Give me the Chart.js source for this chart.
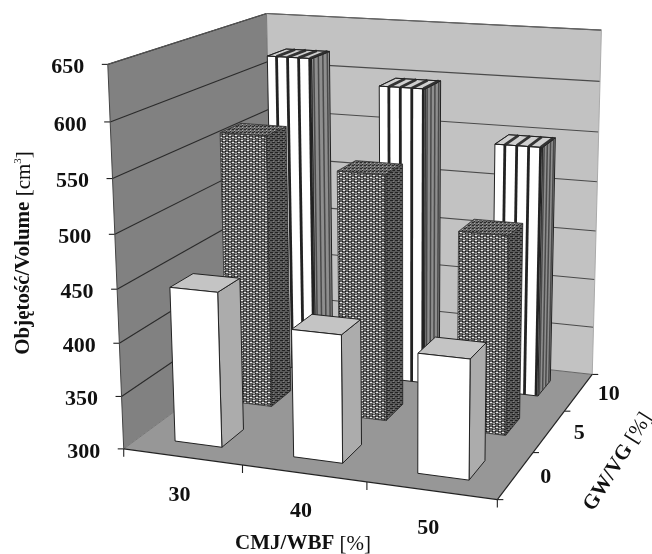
<!DOCTYPE html>
<html><head><meta charset="utf-8">
<style>html,body{margin:0;padding:0;background:#fff}canvas{display:block;filter:blur(0.5px)}</style>
<script src="https://cdn.jsdelivr.net/npm/chart.js@4"></script>
</head><body><canvas id="c" width="652" height="554"></canvas>
<script>
const categories = ['30','40','50'];
const depthLabels = ['0','5','10'];
const gw0 = [446, 419, 410];
const gw5 = [565, 537, 490];
const gw10 = [620, 597, 548];

/* camera calibration: cube corner (u,v,w) -> page pixel */
const calib = [
 [0,0,0,123,450],[0,1,0,109,64],[0,1,1,265,14],[0,0,1,274,338],
 [1,0,1,592,375],[1,1,1,602,30],[1,0,0,497,499],
 [0,3/7,0,117,289],[1,3/7,1,596,231]
];
function solveCam(pts){
  const A=[],b=[];
  for(const [X,Y,Z,x,y] of pts){
    A.push([X,Y,Z,1,0,0,0,0,-x*X,-x*Y,-x*Z]);b.push(x);
    A.push([0,0,0,0,X,Y,Z,1,-y*X,-y*Y,-y*Z]);b.push(y);
  }
  const n=11,M=[];
  for(let i=0;i<n;i++){M.push(new Array(n+1).fill(0));
    for(let j=0;j<n;j++)for(let r=0;r<A.length;r++)M[i][j]+=A[r][i]*A[r][j];
    for(let r=0;r<A.length;r++)M[i][n]+=A[r][i]*b[r];}
  for(let c=0;c<n;c++){let p=c;for(let r=c+1;r<n;r++)if(Math.abs(M[r][c])>Math.abs(M[p][c]))p=r;
    [M[c],M[p]]=[M[p],M[c]];
    for(let r=0;r<n;r++)if(r!==c){const f=M[r][c]/M[c][c];for(let k=c;k<=n;k++)M[r][k]-=f*M[c][k];}}
  return M.map((row,i)=>row[n]/row[i]);
}
const cam=solveCam(calib);
function P(u,v,w){const d=cam[8]*u+cam[9]*v+cam[10]*w+1;
  return [(cam[0]*u+cam[1]*v+cam[2]*w+cam[3])/d,(cam[4]*u+cam[5]*v+cam[6]*w+cam[7])/d];}

function poly(ctx,pts,fill,stroke,lw){ctx.beginPath();pts.forEach((p,i)=>i?ctx.lineTo(p[0],p[1]):ctx.moveTo(p[0],p[1]));ctx.closePath();
  if(fill){ctx.fillStyle=fill;ctx.fill();}
  if(stroke){ctx.strokeStyle=stroke;ctx.lineWidth=lw||1;ctx.stroke();}}
function seg(ctx,a,b,col,lw){ctx.beginPath();ctx.moveTo(a[0],a[1]);ctx.lineTo(b[0],b[1]);ctx.strokeStyle=col;ctx.lineWidth=lw||1;ctx.stroke();}

function mkPattern(ctx,w,h,bg,draw){const c=document.createElement('canvas');c.width=w;c.height=h;const g=c.getContext('2d');g.fillStyle=bg;g.fillRect(0,0,w,h);draw(g);return ctx.createPattern(c,'repeat');}

const DEPTH_FRAC=0.42;
const plugin3d={id:'plugin3d',afterDatasetsDraw(chart){
  const ctx=chart.ctx,a=chart.chartArea,sx=chart.scales.x,sy=chart.scales.y,sz=chart.scales.z;
  const U=px=>(px-a.left)/a.width, V=py=>(a.bottom-py)/a.height, W=px=>(px-a.left)/a.width;
  ctx.save();
  ctx.lineJoin='round';
  poly(ctx,[P(0,0,0),P(0,1,0),P(0,1,1),P(0,0,1)],'#818181');
  poly(ctx,[P(0,0,1),P(0,1,1),P(1,1,1),P(1,0,1)],'#c2c2c2');
  poly(ctx,[P(0,0,0),P(0,0,1),P(1,0,1),P(1,0,0)],'#979797');
  ctx.font='bold 22px "Liberation Serif"';ctx.textAlign='center';ctx.textBaseline='middle';
  sy.ticks.forEach(t=>{const v=V(sy.getPixelForValue(t.value)),p0=P(0,v,0),p1=P(0,v,1),p2=P(1,v,1);
    if(t.value>300){seg(ctx,p0,p1,'#2a2a2a',1.1);seg(ctx,p1,p2,'#4a4a4a',1.1);}
    seg(ctx,[p0[0]-6,p0[1]],p0,'#222',1.1);
    ctx.fillStyle='#111';ctx.fillText(String(t.value),p0[0]-40,p0[1]+3);
  });
  seg(ctx,P(0,1,0),P(0,1,1),'#555',1);seg(ctx,P(0,1,1),P(1,1,1),'#666',1);seg(ctx,P(0,0,0),P(0,1,0),'#444',1);
  seg(ctx,P(1,1,1),P(1,0,1),'#aaa',1);seg(ctx,P(0,0,1),P(1,0,1),'#666',1);seg(ctx,P(0,0,0),P(0,0,1),'#777',1);
  seg(ctx,P(0,1,1),P(0,0,1),'#777',1);
  seg(ctx,P(0,0,0),P(1,0,0),'#222',1.2);seg(ctx,P(1,0,0),P(1,0,1),'#222',1.2);
  const hatchFront=mkPattern(ctx,6,5,'#5e5e5e',g=>{g.fillStyle='#e8e8e8';g.fillRect(1,0,2,1);g.fillRect(4,2,2,1);g.fillStyle='#1c1c1c';g.fillRect(0,1,1,1);g.fillRect(3,1,1,1);g.fillRect(3,3,1,1);g.fillRect(0,4,1,1);g.fillStyle='#b0b0b0';g.fillRect(1,3,2,1);});
  const hatchSide=mkPattern(ctx,5,4,'#5a5a5a',g=>{g.fillStyle='#222';g.fillRect(0,0,3,1);g.fillRect(2,2,3,1);g.fillStyle='#808080';g.fillRect(3,1,1,1);});
  const hatchTop=mkPattern(ctx,4,3,'#6a6a6a',g=>{g.fillStyle='#2a2a2a';g.fillRect(0,0,2,1);g.fillRect(2,2,1,1);g.fillStyle='#a8a8a8';g.fillRect(2,1,1,1);});
  for(let ds=chart.data.datasets.length-1;ds>=0;ds--){
    const meta=chart.getDatasetMeta(ds),wc=W(sz.getPixelForValue(ds)),dw=(DEPTH_FRAC/3)/2;
    const w0=wc-dw,w1=wc+dw;
    meta.data.forEach(el=>{
      const u0=U(el.x-el.width/2),u1=U(el.x+el.width/2),vt=V(el.y),vb=0;
      const front=[P(u0,vb,w0),P(u0,vt,w0),P(u1,vt,w0),P(u1,vb,w0)];
      const side=[P(u1,vb,w0),P(u1,vt,w0),P(u1,vt,w1),P(u1,vb,w1)];
      const top=[P(u0,vt,w0),P(u0,vt,w1),P(u1,vt,w1),P(u1,vt,w0)];
      if(ds===0){
        poly(ctx,side,'#acacac','#222',1);poly(ctx,top,'#c4c4c4','#222',1);poly(ctx,front,'#ffffff','#222',1);
      }else if(ds===1){
        poly(ctx,side,hatchSide,'#222',.8);poly(ctx,top,hatchTop,'#333',.8);poly(ctx,front,hatchFront,'#333',.8);
      }else{
        poly(ctx,side,'#8e8e8e','#222',1);poly(ctx,top,'#d0d0d0','#222',1);poly(ctx,front,'#ffffff','#222',1);
        for(let k=1;k<=4;k++){const u=u0+(u1-u0)*k/4,f=w0+(w1-w0)*(k-.5)/4,ue=u-(u1-u0)*.04;
          seg(ctx,P(ue,vb,w0),P(ue,vt,w0),'#222',2.8);
          seg(ctx,P(ue,vt,w0),P(ue,vt,w1),'#333',2.8);
          seg(ctx,P(u1,vb,f),P(u1,vt,f),'#4a4a4a',1.5);
        }
        poly(ctx,top,null,'#222',.8);
      }
    });
  }
  ctx.fillStyle='#111';ctx.font='bold 22px "Liberation Serif"';
  for(let i=0;i<=3;i++){const p=P(i/3,0,0);seg(ctx,p,[p[0],p[1]+8],'#222',1.1);const q=P(1,0,i/3);seg(ctx,q,[q[0]+6,q[1]],'#222',1.1);}
  categories.forEach((c,i)=>{const p=P(U(sx.getPixelForValue(i)),0,0);ctx.fillText(c,p[0]-3,p[1]+38);});
  depthLabels.forEach((c,i)=>{const p=P(1,0,W(sz.getPixelForValue(i)));ctx.fillText(c,p[0]+30,p[1]+2);});
  ctx.textAlign='left';
  const title=(cx,cy,rot,parts)=>{ctx.save();ctx.translate(cx,cy);ctx.rotate(rot);
    let tw=0;parts.forEach(s=>{ctx.font=s[1];tw+=ctx.measureText(s[0]).width;});
    let x=-tw/2;parts.forEach(s=>{ctx.font=s[1];ctx.fillText(s[0],x,s[2]||0);x+=ctx.measureText(s[0]).width;});ctx.restore();};
  const B='bold 21px "Liberation Serif"',R='21px "Liberation Serif"',S='11px "Liberation Serif"';
  title(303,544,0,[['CMJ/WBF ',B],['[%]',R]]);
  title(618,462,-58*Math.PI/180,[['GW/VG ',B],['[%]',R]]);
  title(24,253,-Math.PI/2,[['Objętość/Volume ',B],['[cm',R],['3',S,-6],[']',R]]);
  ctx.restore();
}};

new Chart(document.getElementById('c'),{
  type:'bar',
  data:{labels:categories,datasets:[
    {label:'0',data:gw0,backgroundColor:'transparent'},
    {label:'5',data:gw5,backgroundColor:'transparent'},
    {label:'10',data:gw10,backgroundColor:'transparent'}]},
  options:{responsive:false,animation:false,devicePixelRatio:1,
    layout:{padding:0},
    datasets:{bar:{grouped:false,barPercentage:0.40,categoryPercentage:1}},
    plugins:{legend:{display:false},tooltip:{enabled:false},title:{display:false}},
    scales:{
      x:{type:'category',display:false,offset:true},
      y:{type:'linear',display:false,min:300,max:650,ticks:{stepSize:50}},
      z:{type:'category',axis:'x',display:false,offset:true,labels:depthLabels}
    }},
  plugins:[plugin3d]
});
</script></body></html>
